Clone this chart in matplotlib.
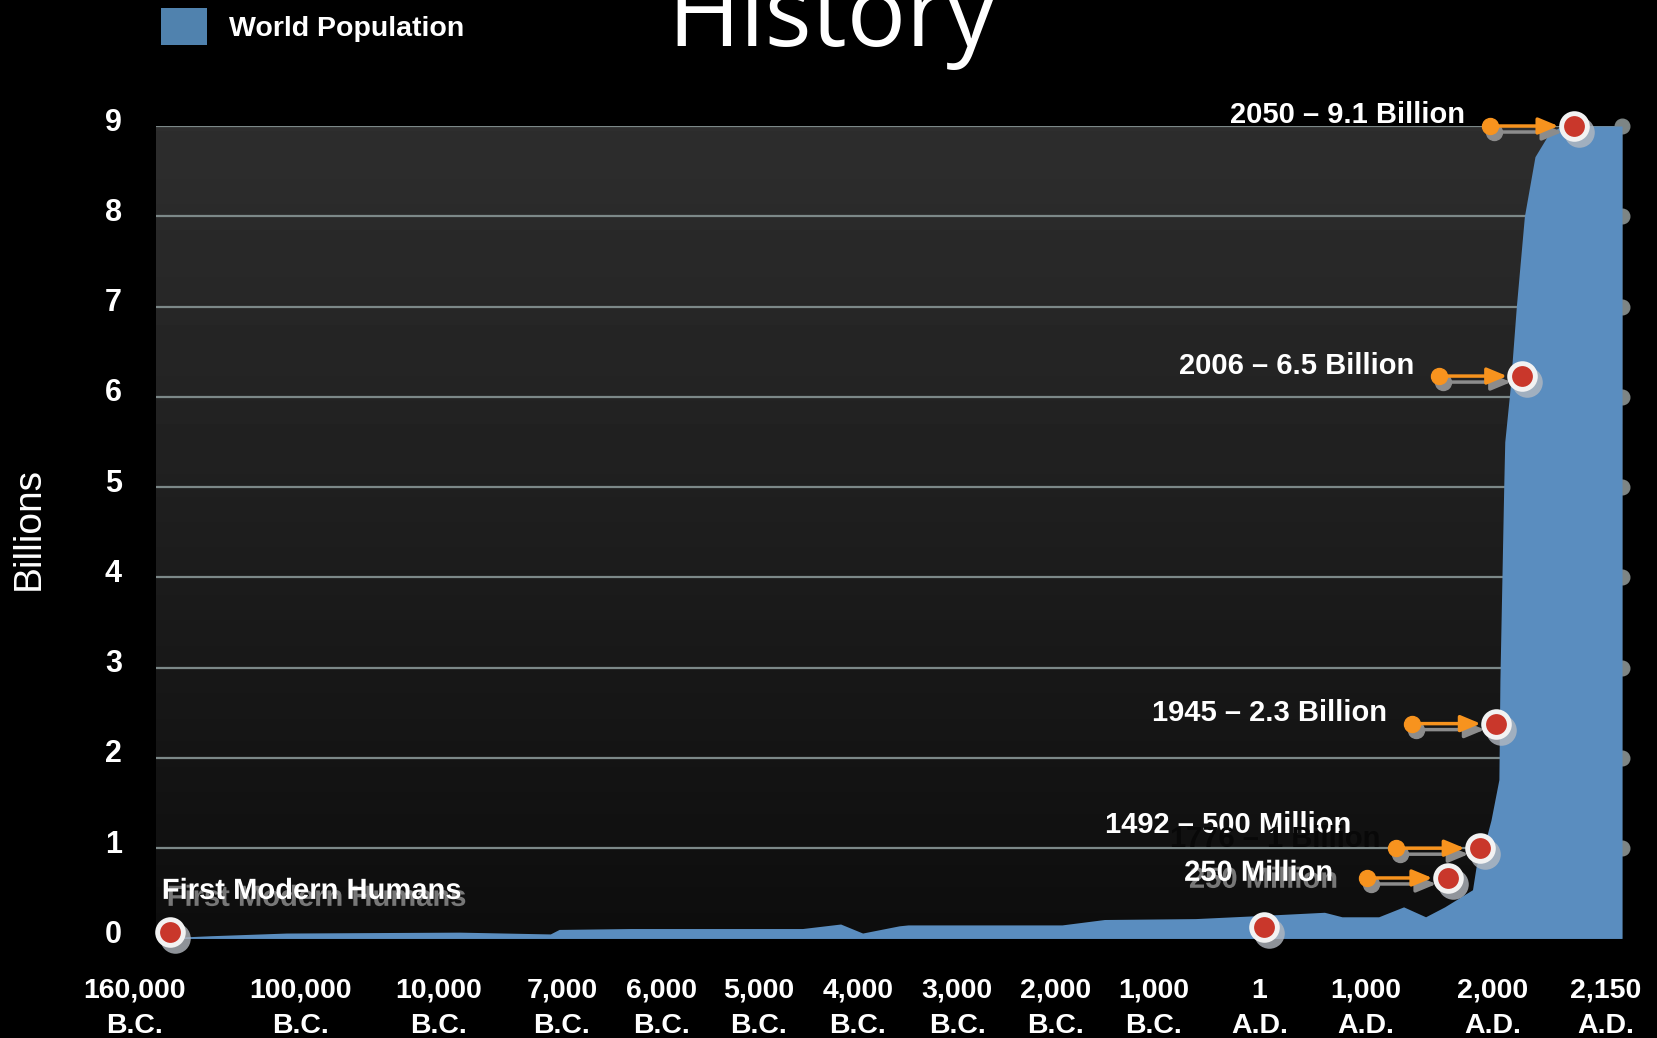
import numpy as np
import matplotlib.pyplot as plt
from matplotlib import transforms as mtransforms
from matplotlib import patheffects as pe
from matplotlib.patches import Patch

plt.rcParams['font.family'] = ['Liberation Sans', 'DejaVu Sans']

# timeline position (0-100 across the panel, uneven era spacing) and population (billions)
pos = [0.0, 0.9, 3.7, 8.9, 20.7, 26.9, 27.5, 32.4, 44.1, 46.7,
       48.2, 50.7, 51.3, 61.8, 64.7, 70.9, 74.8, 79.7, 80.9, 83.4,
       85.1, 86.6, 87.9, 89.8, 90.05, 90.7, 91.06, 91.6, 91.67, 91.93,
       92.0, 92.36, 92.79, 93.34, 94.06, 95.03, 95.89, 100.0]
pop = [0.0, 0.01, 0.03, 0.06, 0.07, 0.05, 0.10, 0.11, 0.11, 0.16,
       0.06, 0.14, 0.15, 0.15, 0.21, 0.22, 0.25, 0.29, 0.24, 0.24,
       0.35, 0.24, 0.35, 0.54, 0.80, 1.09, 1.31, 1.76, 2.86, 5.0,
       5.5, 6.08, 7.0, 8.0, 8.66, 8.92, 9.0, 9.0]

tick_pos = [-1.44, 9.88, 19.25, 27.69, 34.46, 41.1, 47.87, 54.65, 61.35, 68.06, 75.27, 82.55, 91.2, 98.9]
tick_years = ['160,000', '100,000', '10,000', '7,000', '6,000', '5,000', '4,000',
              '3,000', '2,000', '1,000', '1', '1,000', '2,000', '2,150']
tick_eras = ['B.C.'] * 10 + ['A.D.'] * 4

# highlighted points
mark_pos = [0.94, 75.6, 88.1, 90.3, 91.4, 93.2, 96.7]
mark_val = [0.07, 0.13, 0.67, 1.0, 2.38, 6.23, 9.0]

# arrows: start position, end position, level
arrow_start = [82.6, 84.6, 85.7, 87.5, 91.0]
arrow_end = [88.1, 90.3, 91.4, 93.2, 96.7]
arrow_val = [0.67, 1.0, 2.38, 6.23, 9.0]

label_text = ['2050 – 9.1 Billion', '2006 – 6.5 Billion', '1945 – 2.3 Billion', '1492 – 500 Million']
label_pos = [89.3, 85.8, 84.0, 81.5]
label_val = [9.15, 6.37, 2.53, 1.29]

BLUE = '#5a8dbf'
ORANGE = '#f7931e'
WHITE = 'white'

fig = plt.figure(figsize=(16.57, 10.38), dpi=100, facecolor='black')
ax = fig.add_axes([0.0941, 0.0959, 0.8848, 0.7827])
ax.set_facecolor('black')

# dark gradient panel
grad = np.linspace(13, 46, 256).reshape(-1, 1) / 255
ax.imshow(grad, origin='lower', cmap='gray', vmin=0, vmax=1,
          extent=(0, 100, 0, 9), aspect='auto', zorder=0)

for v in range(1, 10):
    ax.axhline(v, color='#7c8888', lw=1.6, zorder=1)
ax.plot([100] * 9, list(range(1, 10)), 'o', color='#7d8585', ms=10.5,
        clip_on=False, zorder=1.5)

ax.fill_between(pos, 0, pop, color=BLUE, lw=0, zorder=2)

ax.set_xlim(0, 100)
ax.set_ylim(0, 9)
ax.set_xticks([])
ax.set_yticks([])
for s in ax.spines.values():
    s.set_visible(False)

# axis labels
xt = ax.get_xaxis_transform()
for p, yr, era in zip(tick_pos, tick_years, tick_eras):
    ax.text(p, -0.0732, yr, transform=xt, ha='center', va='baseline', fontsize=20.5,
            weight='bold', color=WHITE, clip_on=False)
    ax.text(p, -0.1166, era, transform=xt, ha='center', va='baseline', fontsize=20.5,
            weight='bold', color=WHITE, clip_on=False)

yt = ax.get_yaxis_transform()
for v in range(10):
    ax.text(-0.0232, v - 0.05, str(v), transform=yt, ha='right', va='baseline',
            fontsize=22, weight='bold', color=WHITE, clip_on=False)

fig.text(0.0172, 0.491, 'Billions', rotation=90, ha='center', va='center',
         fontsize=28, color=WHITE)

# arrows with drop shadow
sh_arrow = mtransforms.offset_copy(ax.transData, fig=fig, x=4, y=-6, units='dots')
for xs, xe, v in zip(arrow_start, arrow_end, arrow_val):
    for col, tr, z in [('#8c8c8c', sh_arrow, 3), (ORANGE, ax.transData, 4)]:
        ax.annotate('', xy=(xe, v), xytext=(xs, v), xycoords=tr, textcoords=tr,
                    arrowprops=dict(arrowstyle='-|>,head_length=0.6,head_width=0.25',
                                    color=col, lw=2.5, mutation_scale=20,
                                    shrinkA=0, shrinkB=11),
                    zorder=z, annotation_clip=False)
        ax.plot(xs, v, 'o', color=col, ms=11.5, transform=tr, zorder=z, clip_on=False)

# red markers with shadow
sh_dot = mtransforms.offset_copy(ax.transData, fig=fig, x=5, y=-6, units='dots')
ax.plot(mark_pos, mark_val, 'o', ms=22, color='#b3b8bf', alpha=0.8, mew=0,
        transform=sh_dot, clip_on=False, zorder=5)
ax.plot(mark_pos, mark_val, 'o', ms=18.5, mfc='#c9372b', mec='#f2f2f2', mew=3.5,
        clip_on=False, zorder=6)

for t, p, v in zip(label_text, label_pos, label_val):
    ax.text(p, v, t, ha='right', va='center_baseline', fontsize=21, weight='bold',
            color=WHITE, zorder=7)

ax.text(83.5, 1.13, '1776 – 1 Billion', ha='right', va='center_baseline', fontsize=21,
        weight='bold', color='#080808', zorder=8)

shadow = [pe.withSimplePatchShadow(offset=(3.5, -5), shadow_rgbFace='#8a8a8a', alpha=0.85)]
ax.text(80.3, 0.76, '250 Million', ha='right', va='center_baseline', fontsize=21,
        weight='bold', color=WHITE, zorder=9, path_effects=shadow)
ax.text(0.4, 0.56, 'First Modern Humans', ha='left', va='center_baseline', fontsize=21,
        weight='bold', color=WHITE, zorder=9, path_effects=shadow)

# title (cut at the top edge, as in the slide)
fig.text(0.502, 0.9557, 'History', ha='center', va='baseline', fontsize=71,
         family=['Open Sans', 'DejaVu Sans'], color=WHITE)

fig.legend(handles=[Patch(facecolor='#5082ae', edgecolor='none', label='World Population')],
           loc='upper left', bbox_to_anchor=(0.0972, 0.9923), frameon=False,
           prop=dict(weight='bold', size=20.5), labelcolor=WHITE,
           handlelength=1.6, handleheight=1.6, handletextpad=0.8,
           borderpad=0, borderaxespad=0)

fig.savefig('out.png', dpi=100, facecolor='black')
